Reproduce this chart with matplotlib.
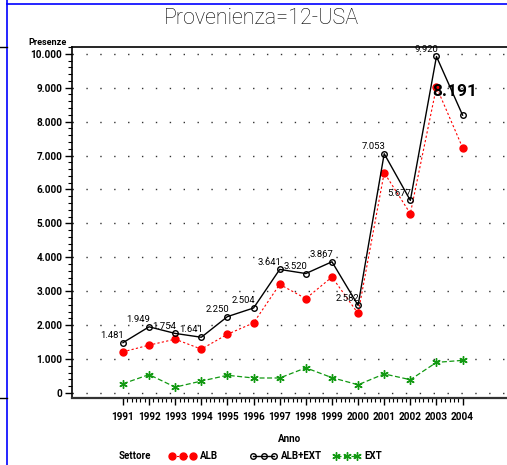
import matplotlib
matplotlib.use('Agg')
import matplotlib.pyplot as plt
from matplotlib.ticker import FixedLocator, MultipleLocator, FuncFormatter
from matplotlib.lines import Line2D

# data
anni = [1991, 1992, 1993, 1994, 1995, 1996, 1997, 1998, 1999, 2000, 2001, 2002, 2003, 2004]
alb_ext = [1481, 1949, 1754, 1641, 2250, 2504, 3641, 3520, 3867, 2582, 7053, 5677, 9920, 8191]
ext = [270, 540, 170, 350, 520, 440, 440, 740, 450, 240, 560, 390, 900, 960]
alb = [1211, 1409, 1584, 1291, 1730, 2064, 3201, 2780, 3417, 2342, 6493, 5287, 9020, 7231]
etichette = ['1.481', '1.949', '1.754', '1.641', '2.250', '2.504', '3.641', '3.520',
             '3.867', '2.582', '7.053', '5.677', '9.920', '8.191']

plt.rcParams['font.family'] = ['Roboto', 'DejaVu Sans']

fig = plt.figure(figsize=(5.07, 4.65), dpi=100)
ax = fig.add_axes([72 / 507, 67 / 465, 435 / 507, 351 / 465])

ax.plot(anni, alb, color='#ff0000', ls=(0, (2, 2)), lw=0.8, marker='o', ms=5,
        mec='#ff0000', mfc='#ff0000', label='ALB', zorder=3)
ax.plot(anni, alb_ext, color='black', ls='-', lw=1.0, marker='o', ms=4,
        mfc='none', mec='black', mew=1.0, label='ALB+EXT', zorder=4)
ax.plot(anni, ext, color='#119911', ls=(0, (4, 2)), lw=0.9, marker=(6, 2, 0), ms=6,
        mec='#119911', mew=1.0, label='EXT', zorder=3)

# value labels on the total series
for i, (x, y, t) in enumerate(zip(anni, alb_ext, etichette)):
    if i == len(anni) - 1:
        ax.annotate(t, (x, y), xytext=(-6, 17), textcoords='offset points',
                    ha='center', va='center', fontsize=12.5, fontweight='bold')
    else:
        ax.annotate(t, (x, y), xytext=(1, 2), textcoords='offset points',
                    ha='right', va='bottom', fontsize=6.8)

ax.set_xlim(1989.05, 2005.7)
ax.set_ylim(-150, 10200)

ax.yaxis.set_major_locator(MultipleLocator(1000))
ax.yaxis.set_minor_locator(MultipleLocator(200))
ax.yaxis.set_major_formatter(FuncFormatter(lambda v, p: f'{int(v):,}'.replace(',', '.')))
ax.xaxis.set_major_locator(FixedLocator(anni))
minori = [anni[0] + k / 6 for k in range((anni[-1] - anni[0]) * 6 + 1)]
ax.xaxis.set_minor_locator(FixedLocator(minori))

ax.tick_params(axis='both', which='major', direction='out', length=5, width=1,
               labelsize=7.2, pad=2)
ax.tick_params(axis='both', which='minor', direction='out', length=3, width=0.8)
ax.tick_params(axis='x', which='major', pad=5)
for lab in ax.get_xticklabels() + ax.get_yticklabels():
    lab.set_fontweight('bold')

for k in range(0, 11):
    ax.axhline(k * 1000, color='#333333', lw=1.0, ls=(0, (1, 9)), zorder=1)

ax.spines['right'].set_visible(False)
ax.spines['top'].set_linewidth(1.2)
ax.spines['left'].set_linewidth(1.2)
ax.spines['bottom'].set_linewidth(1.6)
ax.spines['bottom'].set_color('#333333')

ax.text(-0.012, 1.0, 'Presenze', transform=ax.transAxes, ha='right', va='bottom',
        fontsize=6.5, fontweight='bold')
ax.set_xlabel('Anno', fontsize=7, fontweight='bold', labelpad=9)

fig.text(261 / 507, 1 - 18 / 465, 'Provenienza=12-USA', ha='center', va='center',
         fontsize=15.5, fontweight='light', color='black')

# legend row: one slot per series
fig.text(119 / 507, 1 - 456 / 465, 'Settore', ha='left', va='center',
         fontsize=7, fontweight='bold')
handles, labels = ax.get_legend_handles_labels()
for h, l, x0 in zip(handles, labels, [166, 247, 330]):
    fig.legend([h], [l], loc='center left', bbox_to_anchor=(x0 / 507, 1 - 456 / 465),
               frameon=False, numpoints=3, handlelength=2.8, handletextpad=0.4,
               borderaxespad=0, borderpad=0.3, prop={'size': 7, 'weight': 'bold'})

# page frame marks
fig.add_artist(Line2D([7 / 507, 7 / 507], [0, 1], color='#0000ff', lw=1.2))
fig.add_artist(Line2D([7 / 507, 1], [1 - 4 / 465, 1 - 4 / 465], color='#0000ff', lw=1.2))
fig.add_artist(Line2D([0, 7 / 507], [1 - 47 / 465, 1 - 47 / 465], color='black', lw=1))
fig.add_artist(Line2D([0, 7 / 507], [1 - 398 / 465, 1 - 398 / 465], color='black', lw=1))

fig.savefig('out.png', dpi=100)
